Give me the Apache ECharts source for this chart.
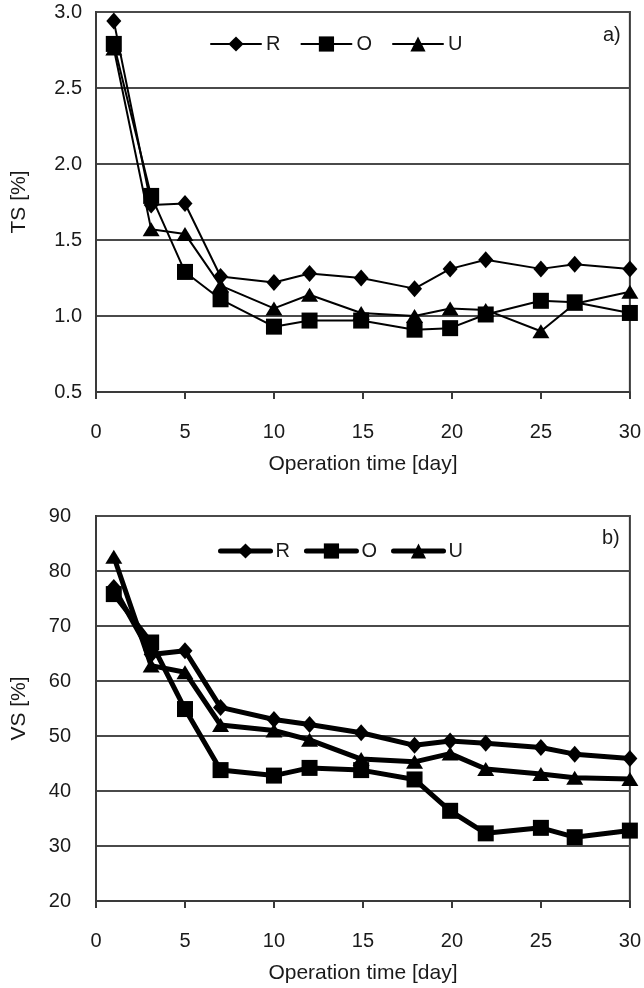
<!DOCTYPE html>
<html><head><meta charset="utf-8">
<script src="https://cdn.jsdelivr.net/npm/echarts@6/dist/echarts.min.js"></script>
<style>html,body{margin:0;padding:0;background:#fff}#c{width:644px;height:988px}</style>
</head><body><div id="c"></div>
<script>
const daysTS = [1, 3.1, 5, 7, 10, 12, 14.9, 17.9, 19.9, 21.9, 25, 26.9, 30];
const tsR = [2.94, 1.73, 1.74, 1.26, 1.22, 1.28, 1.25, 1.18, 1.31, 1.37, 1.31, 1.34, 1.31];
const tsO = [2.79, 1.79, 1.29, 1.11, 0.93, 0.97, 0.97, 0.91, 0.92, 1.01, 1.10, 1.09, 1.02];
const tsU = [2.76, 1.57, 1.54, 1.20, 1.05, 1.14, 1.02, 1.00, 1.05, 1.04, 0.90, 1.08, 1.16];
const daysVS = [1, 3.1, 5, 7, 10, 12, 14.9, 17.9, 19.9, 21.9, 25, 26.9, 30];
const vsR = [77.0, 64.8, 65.5, 55.2, 53.0, 52.1, 50.6, 48.3, 49.1, 48.7, 47.9, 46.7, 45.9];
const vsO = [75.8, 67.0, 54.9, 43.8, 42.8, 44.2, 43.8, 42.1, 36.4, 32.3, 33.3, 31.6, 32.8];
const vsU = [82.6, 62.8, 61.6, 52.0, 51.0, 49.3, 45.8, 45.3, 46.8, 44.0, 43.1, 42.4, 42.2];
const seriesNames = ['R', 'O', 'U'];

const FONT = 'Liberation Sans';
const TXT = '#1a1a1a';
const pairs = (xs, ys) => xs.map((x, i) => [x, ys[i]]);
const symbols = {R: 'diamond', O: 'rect', U: 'triangle'};
const symSizes = {R: [15, 17], O: [16, 16], U: [17, 14]};

function mkSeries(name, data, gi, lw) {
  return {
    name: name, type: 'line', xAxisIndex: gi, yAxisIndex: gi,
    data: data, symbol: symbols[name],
    symbolSize: symSizes[name],
    showAllSymbol: true,
    lineStyle: {color: '#000', width: lw, cap: 'round', join: 'round'},
    itemStyle: {color: '#000', borderWidth: 0},
    emphasis: {disabled: true}, animation: false, z: name === 'O' ? 4 : 3
  };
}

const chart = echarts.init(document.getElementById('c'), null, {renderer: 'canvas'});
const axisX = (gi) => ({
  type: 'value', gridIndex: gi, min: 0, max: 30, interval: 5,
  name: 'Operation time [day]', nameLocation: 'middle', nameGap: 62,
  nameTextStyle: {fontFamily: FONT, fontSize: 21, color: TXT},
  axisLine: {show: true, lineStyle: {color: '#3a3a3a', width: 2}},
  axisTick: {show: true, length: 7, lineStyle: {color: '#3a3a3a', width: 2}},
  axisLabel: {fontFamily: FONT, fontSize: 20, color: TXT, margin: 30},
  splitLine: {show: false}
});
const axisY = (gi, name, min, max, interval, fmt, margin) => ({
  type: 'value', gridIndex: gi, min: min, max: max, interval: interval,
  name: name, nameLocation: 'middle', nameGap: 66,
  nameTextStyle: {fontFamily: FONT, fontSize: 21, color: TXT},
  axisLine: {show: true, lineStyle: {color: '#3a3a3a', width: 2}},
  axisTick: {show: false},
  axisLabel: {fontFamily: FONT, fontSize: 20, color: TXT, margin: margin, formatter: fmt},
  splitLine: {show: true, lineStyle: {color: '#4a4a4a', width: 2}}
});

const legendBase = {
  data: seriesNames, itemWidth: 50, itemHeight: 19, itemGap: 20,
  textStyle: {fontFamily: FONT, fontSize: 20, color: TXT, padding: [0, 0, 0, 0]},
  selectedMode: false
};

chart.setOption({
  animation: false,
  backgroundColor: '#fff',
  grid: [
    {left: 96, top: 12, width: 538, height: 380, show: true, borderColor: '#3a3a3a', borderWidth: 2, backgroundColor: 'transparent'},
    {left: 96, top: 516, width: 538, height: 385, show: true, borderColor: '#3a3a3a', borderWidth: 2, backgroundColor: 'transparent'}
  ],
  xAxis: [axisX(0), axisX(1)],
  yAxis: [
    axisY(0, 'TS [%]', 0.5, 3.0, 0.5, v => v.toFixed(1), 14),
    axisY(1, 'VS [%]', 20, 90, 10, v => String(v), 25)
  ],
  legend: [
    Object.assign({}, legendBase, {top: 29, left: 205,
      lineStyle: {width: 2}}),
    Object.assign({}, legendBase, {top: 536, left: 213, itemGap: 14,
      lineStyle: {width: 5, cap: 'round'}})
  ],
  title: [
    {text: 'a)', left: 598, top: 20, textStyle: {fontFamily: FONT, fontSize: 20, fontWeight: 'normal', color: TXT}},
    {text: 'b)', left: 597, top: 523, textStyle: {fontFamily: FONT, fontSize: 20, fontWeight: 'normal', color: TXT}}
  ],
  series: [
    mkSeries('R', pairs(daysTS, tsR), 0, 2),
    mkSeries('O', pairs(daysTS, tsO), 0, 2),
    mkSeries('U', pairs(daysTS, tsU), 0, 2),
    mkSeries('R', pairs(daysVS, vsR), 1, 5),
    mkSeries('O', pairs(daysVS, vsO), 1, 5),
    mkSeries('U', pairs(daysVS, vsU), 1, 5)
  ]
});
</script>
</body></html>
